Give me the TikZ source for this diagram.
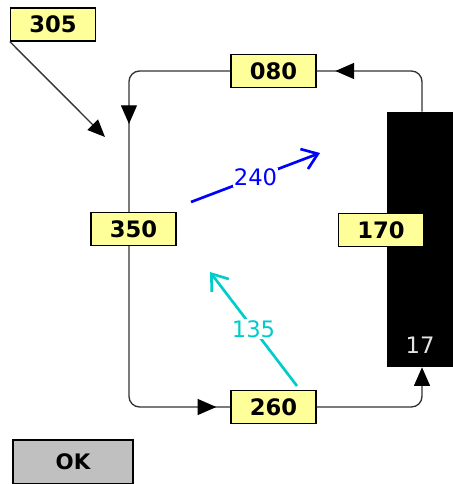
\documentclass[tikz,border=0pt]{standalone}
\usepackage{fontspec}
\setmainfont{DejaVu Sans}
\usetikzlibrary{arrows.meta,positioning,decorations.markings}
\definecolor{valYellow}{RGB}{255,255,153}
\definecolor{flowBlue}{RGB}{0,0,255}
\definecolor{flowCyan}{RGB}{0,204,204}
\definecolor{btnGray}{RGB}{192,192,192}
\definecolor{pipeGray}{RGB}{50,50,50}

\begin{document}
\begin{tikzpicture}[x=0.75pt,y=-0.75pt,
  box/.style={rectangle, draw=black, line width=1.1pt, fill=valYellow,
              minimum width=63.75pt, minimum height=24.5pt, inner sep=0pt,
              font=\bfseries\fontsize{17}{17}\selectfont},
  tank/.style={rectangle, fill=black, minimum width=52.5pt,
               minimum height=191.25pt, inner sep=0pt},
  okbtn/.style={rectangle, draw=black, line width=1.6pt, fill=btnGray,
                minimum width=90pt, minimum height=33pt,
                font=\bfseries\fontsize{16}{16}\selectfont},
  pipe/.style={line width=1pt, pipeGray, rounded corners=8pt},
  dirtip/.style={postaction={decorate}, decoration={markings,
      mark=at position #1 with
        {\arrow{Triangle[length=14pt,width=12pt,color=black]}}}},
  arr/.style={line width=1pt, pipeGray,
      -{Triangle[length=13pt,width=11pt,color=black]}},
  flow/.style={line width=2pt, #1,
      -{Straight Barb[length=11pt,width=16pt,line width=2pt]}},
  lbl/.style={fill=white, inner sep=1pt,
              font=\fontsize{17}{17}\selectfont}
]
  \useasboundingbox (0,0) rectangle (452,484);

  \node[tank] (tank) at (422,239.5) {};
  \node[font=\fontsize{17}{17}\selectfont, text=white!90!black]
    (level) at (420,345) {17};

  \node[box] (n305) at (53,24.5)   {305};
  \node[box] (n080) at (273.5,71)  {080};
  \node[box] (n350) at (133.5,229) {350};
  \node[box] (n170) at (381,230)   {170};
  \node[box] (n260) at (273.5,407) {260};

  \node[okbtn] (ok) at (73,462) {OK};

  \coordinate (p305) at (105,137);
  \draw[arr] (n305.south west) -- (p305);

  \draw[pipe, dirtip=-14pt] (tank.north) |- (n080.east);
  \draw[pipe, dirtip=-66pt] (n080.west) -| ([xshift=-3.4pt]n350.north);
  \draw[pipe, dirtip=-10.5pt] ([xshift=-3.4pt]n350.south) |- (n260.west);
  \draw[pipe, -{Triangle[length=14pt,width=12pt,color=black]}]
    (n260.east) -| (tank.south);

  \coordinate (b1) at (191,202);
  \coordinate (b2) at (320,153);
  \draw[flow=flowBlue] (b1) -- node[lbl] {240} (b2);

  \coordinate (c1) at (297,386);
  \coordinate (c2) at (210,272);
  \draw[flow=flowCyan] (c1) -- node[lbl] {135} (c2);
\end{tikzpicture}
\end{document}
